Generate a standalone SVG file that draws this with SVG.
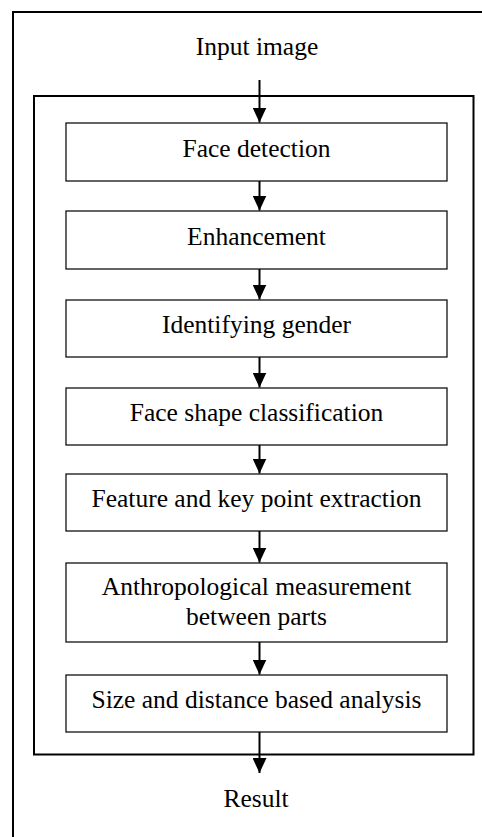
<svg xmlns="http://www.w3.org/2000/svg" width="482" height="837" viewBox="0 0 482 837">
<style>
.frame{fill:none;stroke:#000;stroke-width:2}
.box{fill:#fff;stroke:#111;stroke-width:1.3}
.t{font-family:"Liberation Serif","Times New Roman",serif;font-size:25.5px;fill:#000;text-anchor:middle}
.c{stroke:#000;stroke-width:2;fill:none;marker-end:url(#ah)}
</style>
<defs>
<marker id="ah" markerUnits="userSpaceOnUse" markerWidth="15" markerHeight="14" refX="15" refY="7" orient="auto" viewBox="0 0 15 14">
<path d="M0,0 L15,7 L0,14 Z" fill="#000"/>
</marker>
</defs>
<g id="outer-frame"><path class="frame" d="M13,838 L13,12 L483,12"/></g>
<g id="inner-frame"><rect class="frame" x="34" y="96" width="439.5" height="658.5"/></g>
<g id="input"><text class="t" x="257" y="55">Input image</text></g>
<g id="n1"><rect class="box" x="66" y="123" width="381" height="58"/><text class="t" x="256.5" y="157">Face detection</text></g>
<g id="n2"><rect class="box" x="66" y="211" width="381" height="58"/><text class="t" x="256.5" y="245">Enhancement</text></g>
<g id="n3"><rect class="box" x="66" y="300" width="381" height="57"/><text class="t" x="256.5" y="333">Identifying gender</text></g>
<g id="n4"><rect class="box" x="66" y="388" width="381" height="57"/><text class="t" x="256.5" y="421">Face shape classification</text></g>
<g id="n5"><rect class="box" x="66" y="474" width="381" height="57"/><text class="t" x="256.5" y="507">Feature and key point extraction</text></g>
<g id="n6"><rect class="box" x="66" y="563" width="381" height="79"/><text class="t" x="256.5" y="595">Anthropological measurement</text><text class="t" x="256.5" y="625">between parts</text></g>
<g id="n7"><rect class="box" x="66" y="675" width="381" height="57"/><text class="t" x="256.5" y="708">Size and distance based analysis</text></g>
<g id="result"><text class="t" x="256" y="807">Result</text></g>
<g id="connectors">
<path class="c" d="M259.5,80 L259.5,122.5"/>
<path class="c" d="M259.5,181 L259.5,210.5"/>
<path class="c" d="M259.5,269 L259.5,299.5"/>
<path class="c" d="M259.5,357 L259.5,387.5"/>
<path class="c" d="M259.5,445 L259.5,473.5"/>
<path class="c" d="M259.5,531 L259.5,562.5"/>
<path class="c" d="M259.5,642 L259.5,674.5"/>
<path class="c" d="M259.5,732 L259.5,773"/>
</g>
</svg>
